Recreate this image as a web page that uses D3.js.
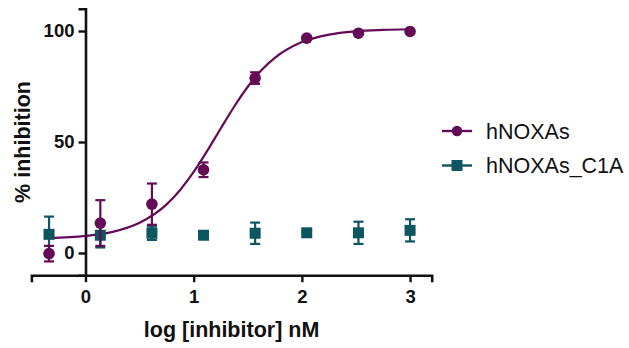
<!DOCTYPE html>
<html>
<head>
<meta charset="utf-8">
<script src="https://cdn.jsdelivr.net/npm/d3@7"></script>
<style>
  html, body { margin: 0; padding: 0; background: #fff; }
  svg { display: block; font-family: "Liberation Sans", Arial, sans-serif; }
</style>
</head>
<body>
<svg id="chart" width="629" height="348"></svg>
<script>
// log concentrations (nM, 3-fold dilution)
const logConc = [-0.337, 0.137, 0.614, 1.091, 1.568, 2.045, 2.523, 3.0]

const wtMean = [-0.3, 13.5, 22.0, 37.5, 78.8, 96.8, 99.0, 99.8]
const wtErr  = [3.5, 10.3, 9.3, 3.3, 2.6, 0.8, 0.6, 0.5]

const mutMean = [8.4, 8.0, 8.9, 8.0, 8.9, 9.1, 9.1, 10.2]
const mutErr  = [8.0, 5.5, 3.0, 0.5, 4.8, 0.6, 5.0, 5.0]

// fitted curve for hNOXAs
const fitX = [-0.34, 0, 0.25, 0.5, 0.75, 0.875, 1.0, 1.125, 1.25, 1.375, 1.5, 1.625, 1.75, 2.0, 2.25, 2.5, 2.75, 3.0]
const fitY = [6.7, 7.7, 9.5, 13.6, 21.9, 28.4, 36.5, 46.0, 56.1, 66.0, 74.9, 82.3, 87.9, 95.0, 98.4, 99.9, 100.5, 100.8]

const xTicks = [0, 1, 2, 3]
const yTicks = [0, 50, 100]
const seriesNames = ['hNOXAs', 'hNOXAs_C1A']

const PURPLE = '#640b58'
const TEAL = '#0d5560'

const svg = d3.select('#chart')

const x = d3.scaleLinear().domain([-0.5, 3.2]).range([31.4, 431.7])
const y = d3.scaleLinear().domain([-10, 110]).range([275.2, 8.8])

const gAxes = svg.append('g')
const gMarks = svg.append('g')

// x axis sits at the bottom of the y range
gAxes.append('g')
  .attr('transform', `translate(0,${y(-10)})`)
  .call(d3.axisBottom(x).tickValues(xTicks).tickFormat(d3.format('d')).tickSizeOuter(0).tickSize(7).tickPadding(8))
gAxes.append('g')
  .attr('transform', `translate(${x(0)},0)`)
  .call(d3.axisLeft(y).tickValues(yTicks).tickSizeOuter(0).tickSize(7).tickPadding(4))

gAxes.selectAll('.domain').attr('stroke', '#111').attr('stroke-width', 2.6)
gAxes.selectAll('.tick line').attr('stroke', '#111').attr('stroke-width', 2.4)
gAxes.selectAll('.tick text')
  .attr('fill', '#111')
  .attr('font-size', 18.5)
  .attr('font-weight', 'bold')
  .attr('font-family', '"Liberation Sans", Arial, sans-serif')

// axis titles
svg.append('text')
  .attr('x', (x.range()[0] + x.range()[1]) / 2)
  .attr('y', 336.5)
  .attr('text-anchor', 'middle')
  .attr('font-size', 21.5)
  .attr('font-weight', 'bold')
  .attr('fill', '#111')
  .text('log [inhibitor] nM')

svg.append('text')
  .attr('transform', `translate(29.5,${(y.range()[0] + y.range()[1]) / 2}) rotate(-90)`)
  .attr('text-anchor', 'middle')
  .attr('font-size', 21.5)
  .attr('font-weight', 'bold')
  .attr('fill', '#111')
  .text('% inhibition')

// fit curve
const line = d3.line().x(d => x(d[0])).y(d => y(d[1])).curve(d3.curveMonotoneX)
gMarks.append('path')
  .datum(fitX.map((v, i) => [v, fitY[i]]))
  .attr('d', line)
  .attr('fill', 'none')
  .attr('stroke', PURPLE)
  .attr('stroke-width', 2.2)

function errorBars(g, means, errs, color) {
  const data = logConc.map((c, i) => ({ c, m: means[i], e: errs[i] }))
  const cap = 5
  const gb = g.append('g').attr('stroke', color).attr('stroke-width', 2.2)
  data.forEach(d => {
    const cx = x(d.c), y0 = y(d.m - d.e), y1 = y(d.m + d.e)
    gb.append('line').attr('x1', cx).attr('x2', cx).attr('y1', y0).attr('y2', y1)
    gb.append('line').attr('x1', cx - cap).attr('x2', cx + cap).attr('y1', y0).attr('y2', y0)
    gb.append('line').attr('x1', cx - cap).attr('x2', cx + cap).attr('y1', y1).attr('y2', y1)
  })
  return data
}

// hNOXAs_C1A (squares)
const mutData = errorBars(gMarks, mutMean, mutErr, TEAL)
gMarks.selectAll('rect.mut').data(mutData).enter().append('rect')
  .attr('class', 'mut')
  .attr('x', d => x(d.c) - 5.5)
  .attr('y', d => y(d.m) - 5.5)
  .attr('width', 11)
  .attr('height', 11)
  .attr('fill', TEAL)

// hNOXAs (circles)
const wtData = errorBars(gMarks, wtMean, wtErr, PURPLE)
gMarks.selectAll('circle.wt').data(wtData).enter().append('circle')
  .attr('class', 'wt')
  .attr('cx', d => x(d.c))
  .attr('cy', d => y(d.m))
  .attr('r', 5.8)
  .attr('fill', PURPLE)

// legend
const legend = svg.append('g').attr('transform', 'translate(442,131)')
seriesNames.forEach((name, i) => {
  const row = legend.append('g').attr('transform', `translate(0,${i * 34.5})`)
  const color = i === 0 ? PURPLE : TEAL
  row.append('line').attr('x1', 0).attr('x2', 30).attr('y1', 0).attr('y2', 0)
    .attr('stroke', color).attr('stroke-width', 2.4)
  if (i === 0) row.append('circle').attr('cx', 15).attr('cy', 0).attr('r', 5.2).attr('fill', color)
  else row.append('rect').attr('x', 9.5).attr('y', -5.5).attr('width', 11).attr('height', 11).attr('fill', color)
  row.append('text')
    .attr('x', 44)
    .attr('y', 0)
    .attr('dy', '0.35em')
    .attr('font-size', 21.5)
    .attr('fill', '#111')
    .text(name)
})
</script>
</body>
</html>
